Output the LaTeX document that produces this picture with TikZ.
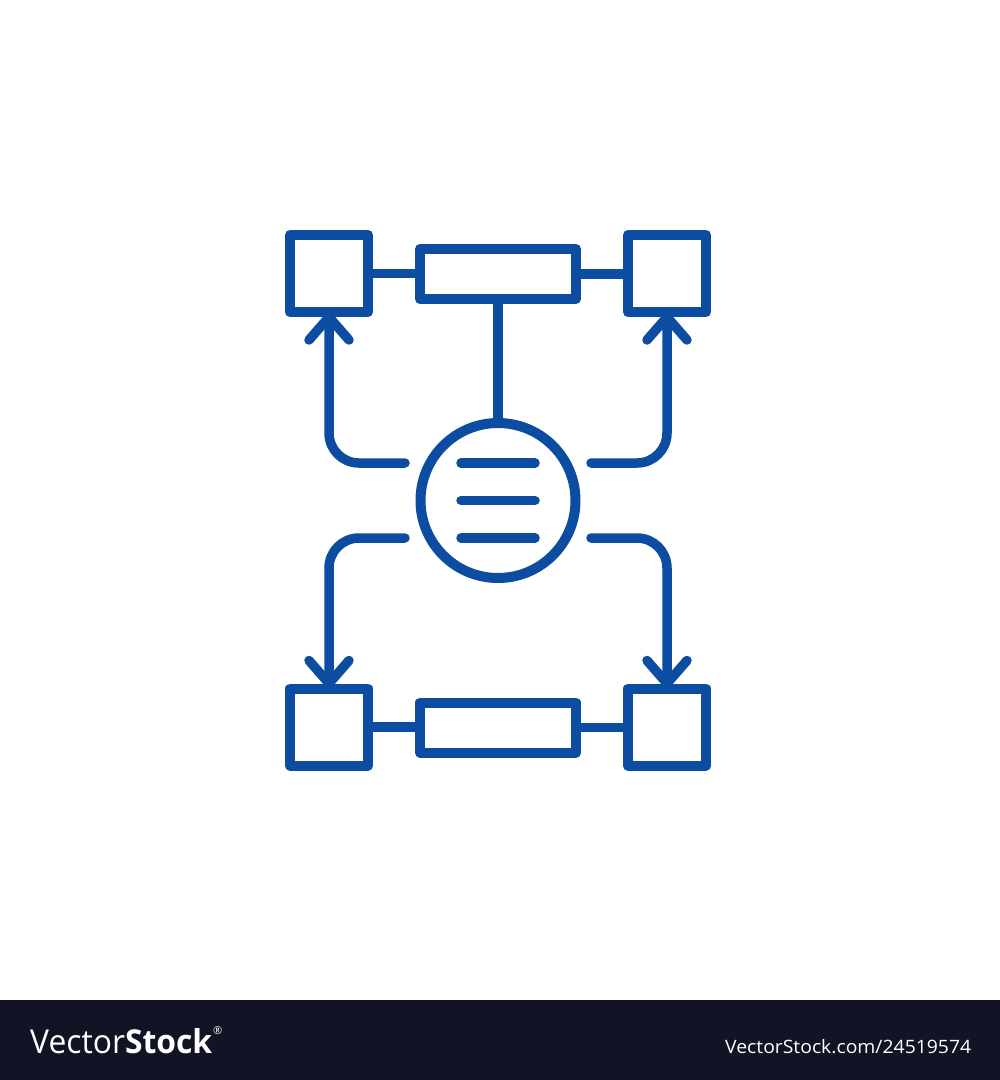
\documentclass[tikz,border=0pt]{standalone}
\usepackage{fontspec}
\usepackage{graphicx}
\setmainfont{Open Sans}
\usetikzlibrary{calc}
\definecolor{iconblue}{RGB}{12,77,162}
\definecolor{bannerbg}{RGB}{18,20,38}
\begin{document}
\begin{tikzpicture}[x=1pt,y=-1pt,
  box/.style={draw=iconblue,line width=10pt,line join=round,inner sep=0pt,rectangle},
  sq/.style={box,minimum width=78pt,minimum height=77pt},
  bar/.style={box,minimum width=156pt,minimum height=50pt},
  hub/.style={draw=iconblue,line width=10pt,circle,inner sep=0pt,minimum size=155pt},
  link/.style={draw=iconblue,line width=9.5pt},
  flow/.style={draw=iconblue,line width=9.5pt,line cap=round,line join=round,rounded corners=30pt},
  barb/.style={draw=iconblue,line width=9.5pt,line cap=round,line join=round},
  stripe/.style={draw=iconblue,line width=9.5pt,line cap=round},
  mark text/.style={text=white,inner sep=0pt,anchor=base west}]
\useasboundingbox (0,0) rectangle (1000,1080);
\fill[bannerbg] (0,1000) rectangle (1000,1080);

% boxes
\node[sq] (tl) at (329,273.5) {};
\node[sq] (tr) at (667,273.5) {};
\node[bar] (tb) at (498,274) {};
\node[sq] (bl) at (329,727) {};
\node[sq] (br) at (667,727) {};
\node[bar] (bb) at (498,727.5) {};
\node[hub] (hub) at (498,500.5) {};

% links between boxes
\draw[link] (tl.east) -- (tl.east -| tb.west);
\draw[link] (tb.east) -- (tb.east -| tr.west);
\draw[link] (bl.east) -- (bl.east -| bb.west);
\draw[link] (bb.east) -- (bb.east -| br.west);
\draw[link] (tb.south) -- (hub.north);

% stripes in hub
\draw[stripe] ($(hub)+(-37,-37.5)$) -- ($(hub)+(37,-37.5)$);
\draw[stripe] ($(hub)+(-37,0)$) -- ($(hub)+(37,0)$);
\draw[stripe] ($(hub)+(-37,37.5)$) -- ($(hub)+(37,37.5)$);

% flow connectors
\coordinate (ul) at ($(hub)+(-93,-37.5)$);
\coordinate (ur) at ($(hub)+(93,-37.5)$);
\coordinate (ll) at ($(hub)+(-93,37.5)$);
\coordinate (lr) at ($(hub)+(93,37.5)$);
\draw[flow] (ul) -| (tl.south);
\draw[flow] (ur) -| (tr.south);
\draw[flow] (ll) -| (bl.north);
\draw[flow] (lr) -| (br.north);

% arrow barbs
\draw[barb] ([shift={(-20,23)}]tl.south) -- (tl.south) -- ([shift={(20,23)}]tl.south);
\draw[barb] ([shift={(-20,23)}]tr.south) -- (tr.south) -- ([shift={(20,23)}]tr.south);
\draw[barb] ([shift={(-20,-23)}]bl.north) -- (bl.north) -- ([shift={(20,-23)}]bl.north);
\draw[barb] ([shift={(-20,-23)}]br.north) -- (br.north) -- ([shift={(20,-23)}]br.north);

% banner text
\node[mark text] (brand) at (30,1053) {\resizebox{182pt}{25pt}{Vector\textbf{Stock}}};
\node[text=white,inner sep=0pt,anchor=north west,font=\fontsize{11pt}{11pt}\selectfont] (reg) at (213,1026) {\textregistered};
\node[mark text] (url) at (725,1053) {\resizebox{246pt}{14pt}{VectorStock.com/24519574}};
\end{tikzpicture}
\end{document}
